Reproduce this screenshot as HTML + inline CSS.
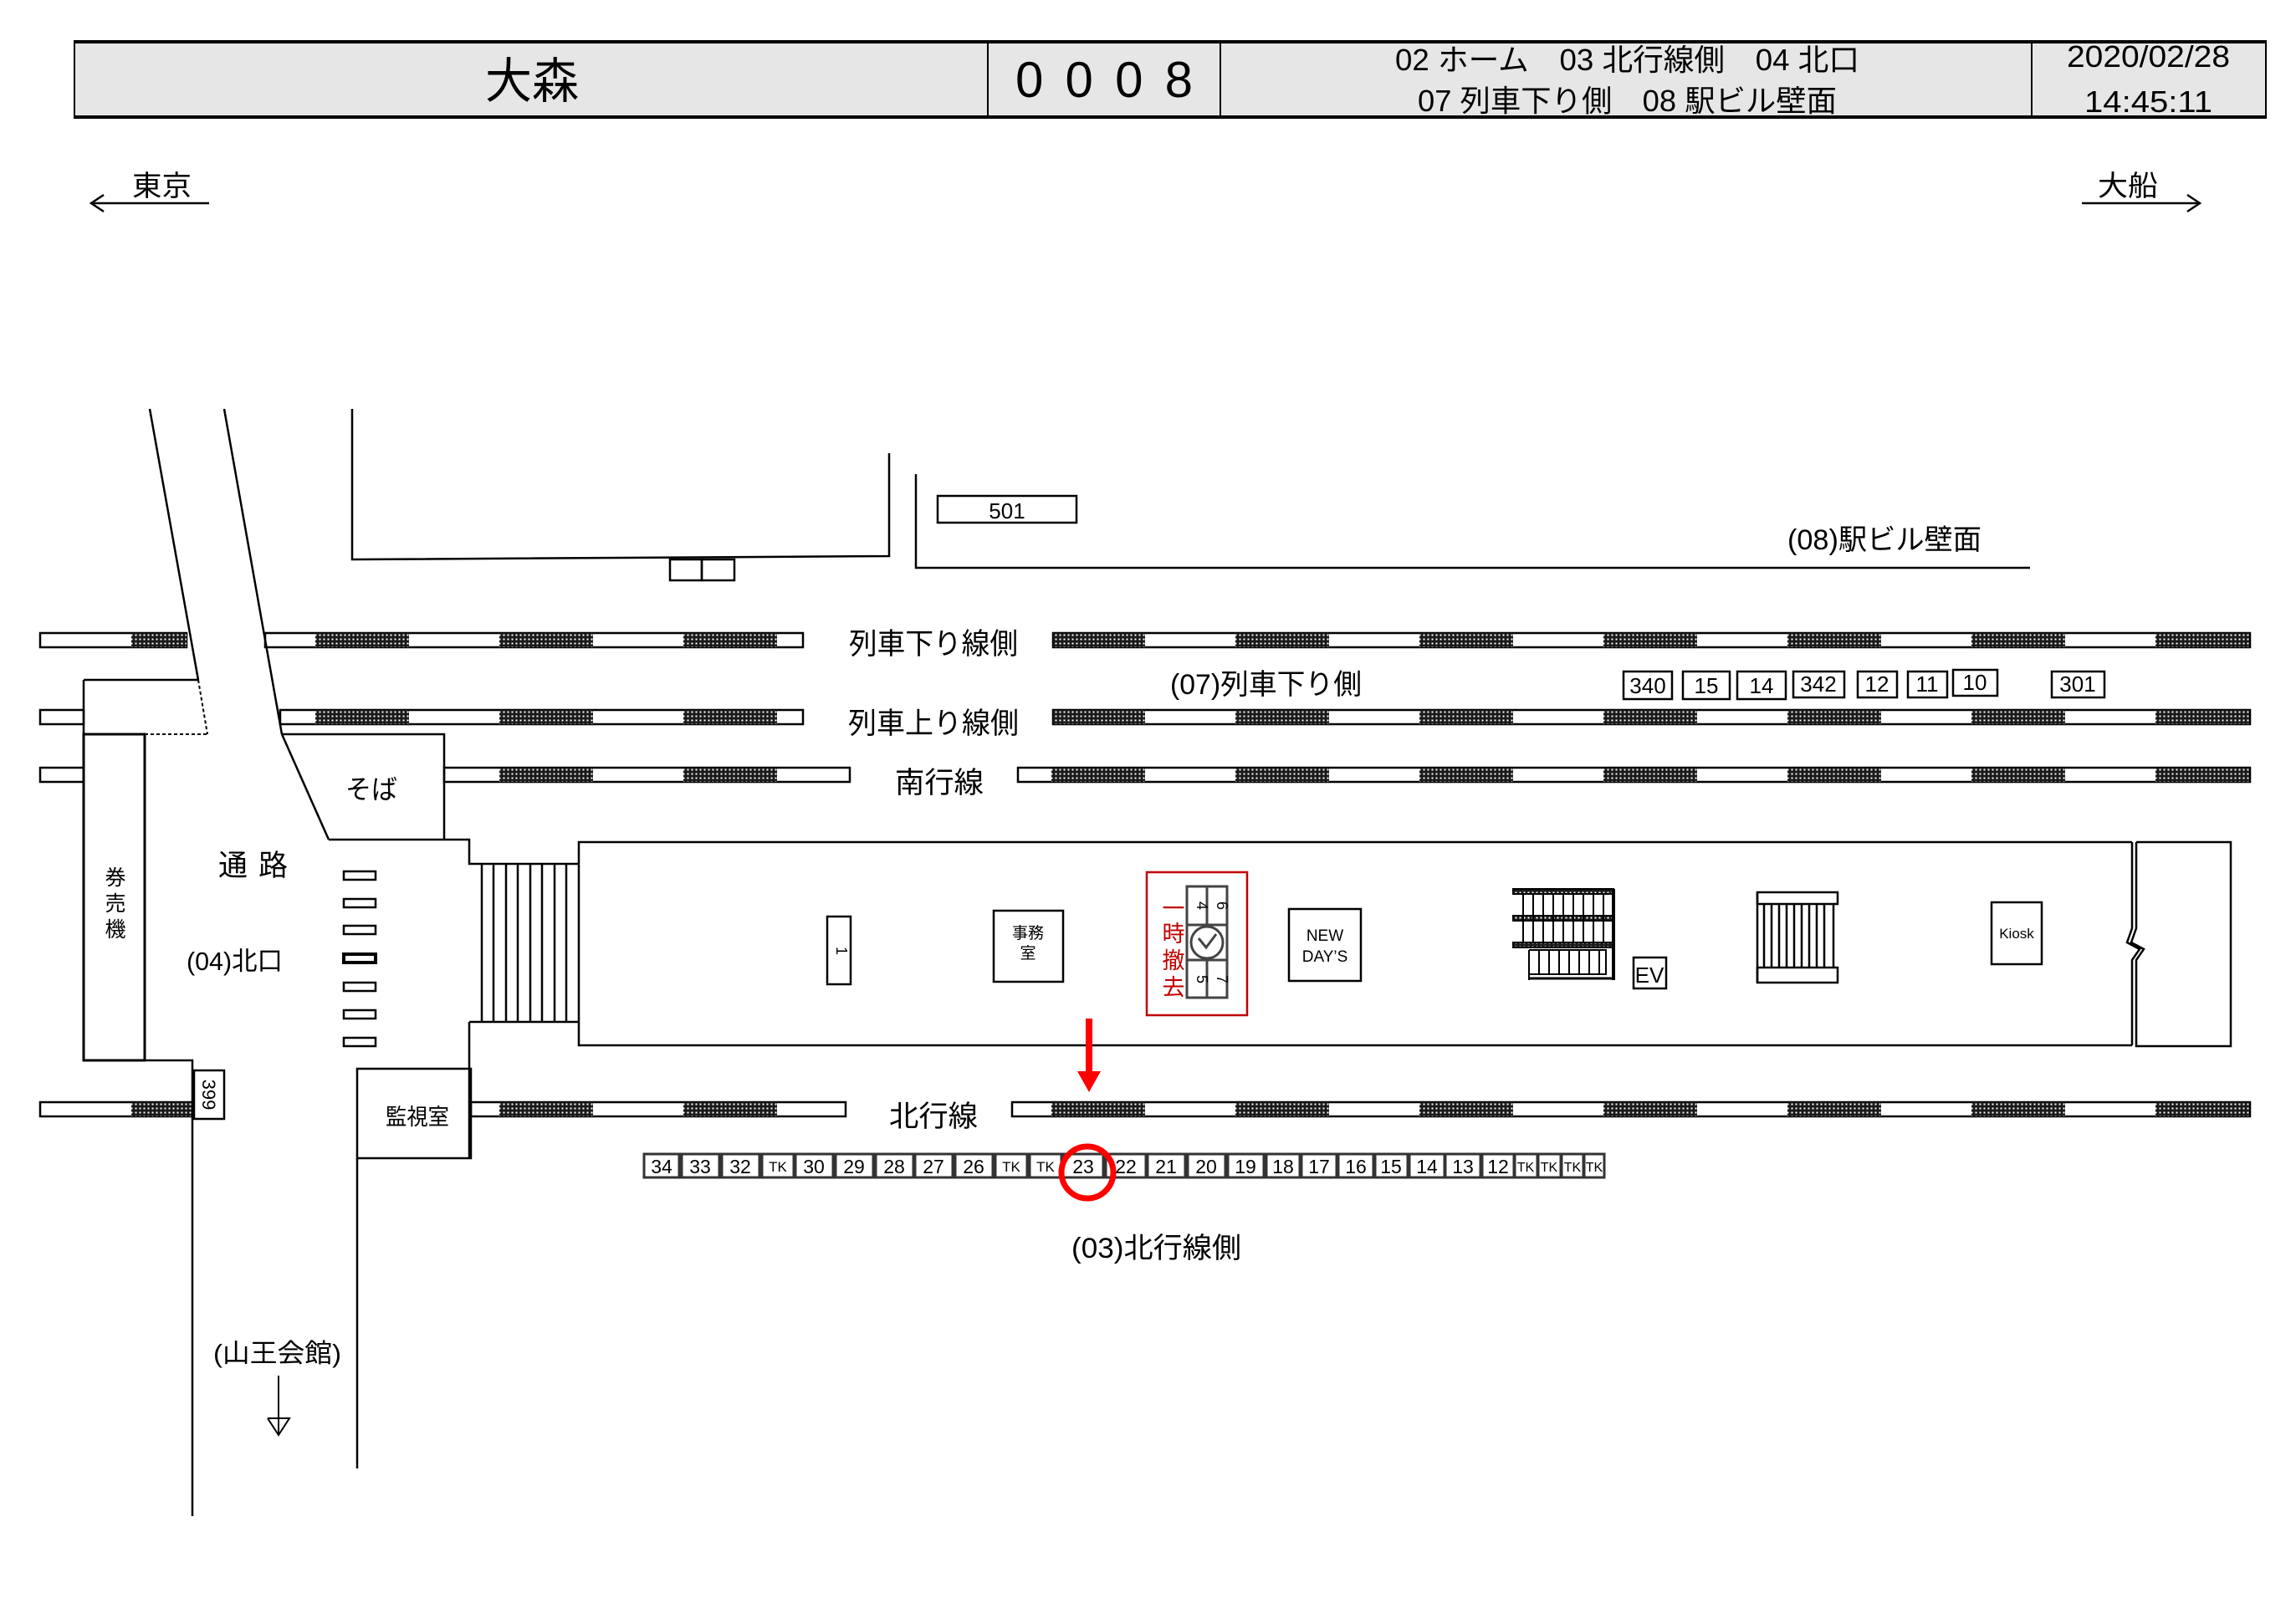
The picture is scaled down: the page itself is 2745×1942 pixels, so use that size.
<!DOCTYPE html>
<html><head><meta charset="utf-8"><style>
html,body{margin:0;padding:0;background:#fff;}
svg{display:block;}
text{font-family:"Liberation Sans","Noto Sans CJK JP",sans-serif;fill:#000;}
text.red{fill:#c00000;}
</style></head><body>
<svg width="2745" height="1942" viewBox="0 0 2745 1942" xmlns="http://www.w3.org/2000/svg">
<defs>
<pattern id="dots" width="5" height="5" patternUnits="userSpaceOnUse">
<rect width="5" height="5" fill="#1a1a1a"/><rect x="1.5" y="1.5" width="2" height="2" fill="#fff"/>
</pattern>
<g id="h">
<rect x="157" y="0" width="112" height="17" fill="url(#dots)"/>
<rect x="377" y="0" width="112" height="17" fill="url(#dots)"/>
<rect x="597" y="0" width="112" height="17" fill="url(#dots)"/>
<rect x="817" y="0" width="112" height="17" fill="url(#dots)"/>
<rect x="1037" y="0" width="112" height="17" fill="url(#dots)"/>
<rect x="1257" y="0" width="112" height="17" fill="url(#dots)"/>
<rect x="1477" y="0" width="112" height="17" fill="url(#dots)"/>
<rect x="1697" y="0" width="112" height="17" fill="url(#dots)"/>
<rect x="1917" y="0" width="112" height="17" fill="url(#dots)"/>
<rect x="2137" y="0" width="112" height="17" fill="url(#dots)"/>
<rect x="2357" y="0" width="112" height="17" fill="url(#dots)"/>
<rect x="2577" y="0" width="112" height="17" fill="url(#dots)"/>
</g>
<clipPath id="cA"><rect x="48" y="757" width="175" height="17"/><rect x="317" y="757" width="643" height="17"/><rect x="1259" y="757" width="1431" height="17"/></clipPath>
<clipPath id="cB"><rect x="48" y="849" width="52" height="17"/><rect x="335" y="849" width="625" height="17"/><rect x="1259" y="849" width="1431" height="17"/></clipPath>
<clipPath id="cC"><rect x="48" y="918" width="52" height="17"/><rect x="531" y="918" width="485" height="17"/><rect x="1217" y="918" width="1473" height="17"/></clipPath>
<clipPath id="cD"><rect x="48" y="1318" width="182" height="17"/><rect x="563" y="1318" width="448" height="17"/><rect x="1210" y="1318" width="1480" height="17"/></clipPath>
</defs>

<!-- header -->
<rect x="88" y="49" width="2622" height="92" fill="#e6e6e6"/>
<line x1="88" y1="50" x2="2710" y2="50" stroke="#000" stroke-width="4"/>
<line x1="88" y1="140" x2="2710" y2="140" stroke="#000" stroke-width="4"/>
<line x1="89" y1="49" x2="89" y2="141" stroke="#000" stroke-width="2"/>
<line x1="2709" y1="49" x2="2709" y2="141" stroke="#000" stroke-width="2"/>
<line x1="1181" y1="49" x2="1181" y2="141" stroke="#000" stroke-width="2"/>
<line x1="1459" y1="49" x2="1459" y2="141" stroke="#000" stroke-width="2"/>
<line x1="2429" y1="49" x2="2429" y2="141" stroke="#000" stroke-width="2"/>
<text x="580" y="117" font-size="58" textLength="112" lengthAdjust="spacingAndGlyphs">大森</text>
<text x="1214" y="116" font-size="60" textLength="212" lengthAdjust="spacing">0008</text>
<text x="1668" y="84" font-size="36" textLength="555" lengthAdjust="spacingAndGlyphs">02 ホーム　03 北行線側　04 北口</text>
<text x="1695" y="133" font-size="36" textLength="501" lengthAdjust="spacingAndGlyphs">07 列車下り側　08 駅ビル壁面</text>
<text x="2471" y="80" font-size="36" textLength="195" lengthAdjust="spacingAndGlyphs">2020/02/28</text>
<text x="2492" y="134" font-size="36" textLength="153" lengthAdjust="spacingAndGlyphs">14:45:11</text>

<!-- direction arrows -->
<text x="158" y="234" font-size="34" textLength="71" lengthAdjust="spacingAndGlyphs">東京</text>
<g stroke="#000" stroke-width="2.5" fill="none">
<line x1="109" y1="243" x2="250" y2="243"/><polyline points="124,233 109,243 124,253"/>
<line x1="2489" y1="243" x2="2630" y2="243"/><polyline points="2615,233 2630,243 2615,253"/>
</g>
<text x="2508" y="234" font-size="34" textLength="72" lengthAdjust="spacingAndGlyphs">大船</text>

<!-- buildings top -->
<g stroke="#000" stroke-width="2.5" fill="none">
<polyline points="421,489 421,669 1063,665 1063,542"/>
<rect x="801" y="669" width="38" height="25"/><rect x="839" y="669" width="39" height="25"/>
<polyline points="1095,567 1095,679 2427,679"/>
<rect x="1121" y="593" width="166" height="32"/>
</g>
<text x="1204" y="620" font-size="26" text-anchor="middle">501</text>
<text x="2137" y="657" font-size="34" textLength="232" lengthAdjust="spacingAndGlyphs">(08)駅ビル壁面</text>

<!-- rails -->
<g fill="#fff" stroke="#000" stroke-width="2.5">
<rect x="48" y="757" width="175" height="17"/><rect x="317" y="757" width="643" height="17"/><rect x="1259" y="757" width="1431" height="17"/>
<rect x="48" y="849" width="52" height="17"/><rect x="335" y="849" width="625" height="17"/><rect x="1259" y="849" width="1431" height="17"/>
<rect x="48" y="918" width="52" height="17"/><rect x="531" y="918" width="485" height="17"/><rect x="1217" y="918" width="1473" height="17"/>
<rect x="48" y="1318" width="182" height="17"/><rect x="563" y="1318" width="448" height="17"/><rect x="1210" y="1318" width="1480" height="17"/>
</g>
<g clip-path="url(#cA)"><use href="#h" y="757"/></g>
<g clip-path="url(#cB)"><use href="#h" y="849"/></g>
<g clip-path="url(#cC)"><use href="#h" y="918"/></g>
<g clip-path="url(#cD)"><use href="#h" y="1318"/></g>

<text x="1015" y="782" font-size="35" textLength="202" lengthAdjust="spacingAndGlyphs">列車下り線側</text>
<text x="1014" y="877" font-size="35" textLength="204" lengthAdjust="spacingAndGlyphs">列車上り線側</text>
<text x="1070" y="948" font-size="35" textLength="106" lengthAdjust="spacingAndGlyphs">南行線</text>
<text x="1063" y="1347" font-size="35" textLength="106" lengthAdjust="spacingAndGlyphs">北行線</text>
<text x="1399" y="830" font-size="34" textLength="229" lengthAdjust="spacingAndGlyphs">(07)列車下り側</text>

<!-- small boxes row 07 -->
<g fill="#fff" stroke="#000" stroke-width="2.5">
<rect x="1941" y="803" width="58" height="33"/><rect x="2012" y="803" width="56" height="33"/><rect x="2077" y="803" width="58" height="33"/>
<rect x="2144" y="803" width="61" height="31"/><rect x="2221" y="803" width="47" height="31"/><rect x="2281" y="803" width="47" height="31"/>
<rect x="2335" y="801" width="53" height="31"/><rect x="2453" y="803" width="63" height="31"/>
</g>
<g font-size="26" text-anchor="middle">
<text x="1970" y="829">340</text><text x="2040" y="829">15</text><text x="2106" y="829">14</text><text x="2174" y="827">342</text>
<text x="2244" y="827">12</text><text x="2304" y="827">11</text><text x="2361" y="825">10</text><text x="2484" y="827">301</text>
</g>

<!-- passage / left structures -->
<g stroke="#000" stroke-width="2.5" fill="none">
<line x1="179" y1="489" x2="237" y2="813"/>
<line x1="268" y1="489" x2="337" y2="878"/>
<line x1="337" y1="878" x2="393" y2="1004"/>
<polyline points="100,813 237,813"/>
<line x1="100" y1="813" x2="100" y2="1268"/>
<rect x="100" y="878" width="73" height="390" stroke-width="3"/>
<polyline points="100,1268 230,1268 230,1813"/>
<polyline points="337,878 531,878 531,1004"/>
<polyline points="393,1004 561,1004 561,1033 692,1033"/>
<line x1="561" y1="1222" x2="692" y2="1222"/>
<line x1="561" y1="1222" x2="561" y2="1385"/>
<rect x="427" y="1278" width="136" height="107"/>
<line x1="427" y1="1385" x2="427" y2="1756"/>
<line x1="576" y1="1033" x2="576" y2="1222"/><line x1="590" y1="1033" x2="590" y2="1222"/><line x1="605" y1="1033" x2="605" y2="1222"/>
<line x1="619" y1="1033" x2="619" y2="1222"/><line x1="634" y1="1033" x2="634" y2="1222"/><line x1="648" y1="1033" x2="648" y2="1222"/>
<line x1="663" y1="1033" x2="663" y2="1222"/><line x1="677" y1="1033" x2="677" y2="1222"/>
<rect x="232" y="1280" width="36" height="58" fill="#fff"/>
</g>
<g stroke="#000" stroke-width="2" fill="none" stroke-dasharray="4,3">
<line x1="237" y1="813" x2="248" y2="878"/><line x1="173" y1="878" x2="248" y2="878"/>
</g>
<g fill="#fff" stroke="#000" stroke-width="2.5">
<rect x="411" y="1042" width="38" height="10"/><rect x="411" y="1075" width="38" height="10"/><rect x="411" y="1107" width="38" height="10"/>
<rect x="411" y="1141" width="38" height="10" stroke-width="4"/><rect x="411" y="1175" width="38" height="10"/><rect x="411" y="1208" width="38" height="10"/>
<rect x="411" y="1241" width="38" height="10"/>
</g>
<text x="261" y="1047" font-size="35" textLength="83" lengthAdjust="spacing">通 路</text>
<text x="223" y="1160" font-size="31" textLength="115" lengthAdjust="spacingAndGlyphs">(04)北口</text>
<text x="413" y="955" font-size="32" textLength="62" lengthAdjust="spacingAndGlyphs">そば</text>
<text x="461" y="1345" font-size="27" textLength="76" lengthAdjust="spacingAndGlyphs">監視室</text>
<g font-size="25" text-anchor="middle"><text x="138" y="1058">券</text><text x="138" y="1089">売</text><text x="138" y="1120">機</text></g>
<text transform="translate(242,1309) rotate(90)" font-size="22" text-anchor="middle">399</text>
<text x="255" y="1629" font-size="31" textLength="153" lengthAdjust="spacingAndGlyphs">(山王会館)</text>
<g stroke="#000" stroke-width="2" fill="none"><line x1="333" y1="1645" x2="333" y2="1716"/><polyline points="320,1696 346,1696 333,1716 320,1696"/></g>

<!-- platform -->
<g stroke="#000" stroke-width="2.5" fill="none">
<polyline points="2549,1007 692,1007 692,1250 2549,1250"/>
<polyline points="2549,1007 2549,1110 2543,1127 2558,1135 2549,1148 2549,1250"/>
<polyline points="2554,1007 2667,1007 2667,1251 2554,1251 2554,1148 2563,1135 2548,1127 2554,1110 2554,1007"/>
<rect x="989" y="1096" width="28" height="81"/>
<rect x="1188" y="1089" width="83" height="85"/>
<rect x="1541" y="1087" width="86" height="86"/>
<rect x="1953" y="1145" width="39" height="37"/>
<rect x="2381" y="1079" width="60" height="74"/>
</g>
<text transform="translate(1000,1137) rotate(90)" font-size="18" text-anchor="middle">1</text>
<text x="1229" y="1122" font-size="19" text-anchor="middle">事務</text>
<text x="1229" y="1146" font-size="19" text-anchor="middle">室</text>
<text x="1584" y="1125" font-size="19" text-anchor="middle">NEW</text>
<text x="1584" y="1150" font-size="19" text-anchor="middle">DAY’S</text>
<text x="1972" y="1175" font-size="26" text-anchor="middle">EV</text>
<text x="2411" y="1122" font-size="17" text-anchor="middle">Kiosk</text>

<!-- red box / clock -->
<rect x="1371" y="1043" width="120" height="171" fill="none" stroke="#c00000" stroke-width="2.5"/>
<g font-size="27" text-anchor="middle">
<text class="red" x="1403" y="1096">一</text><text class="red" x="1403" y="1126">時</text>
<text class="red" x="1403" y="1158">撤</text><text class="red" x="1403" y="1190">去</text>
</g>
<g stroke="#444" stroke-width="3" fill="#fff">
<rect x="1419" y="1060" width="48" height="133"/>
<line x1="1443" y1="1060" x2="1443" y2="1106"/><line x1="1443" y1="1148" x2="1443" y2="1193"/>
<line x1="1419" y1="1106" x2="1467" y2="1106"/><line x1="1419" y1="1148" x2="1467" y2="1148"/>
<circle cx="1443" cy="1127" r="19"/>
<polyline points="1433,1122 1442,1133 1454,1117" fill="none"/>
</g>
<g font-size="18" text-anchor="middle">
<text transform="translate(1431,1083) rotate(90)">4</text><text transform="translate(1455,1083) rotate(90)">6</text>
<text transform="translate(1431,1171) rotate(90)">5</text><text transform="translate(1455,1171) rotate(90)">7</text>
</g>

<!-- escalator -->
<g stroke="#000" stroke-width="2" fill="none">
<rect x="1809" y="1063" width="120" height="6" fill="url(#dots)"/>
<rect x="1809" y="1095" width="120" height="6" fill="url(#dots)"/>
<rect x="1809" y="1127" width="120" height="6" fill="url(#dots)"/>
<line x1="1929" y1="1063" x2="1929" y2="1172" stroke-width="4"/>
<polyline points="1828,1136 1920,1136 1920,1165 1828,1165"/>
<line x1="1828" y1="1170" x2="1929" y2="1170" stroke-width="3"/>
<line x1="1828" y1="1136" x2="1828" y2="1172"/>
<path d="M1821 1069V1127M1833 1069V1127M1845 1069V1127M1857 1069V1127M1869 1069V1127M1881 1069V1127M1893 1069V1127M1905 1069V1127M1917 1069V1127"/>
<path d="M1840 1136V1165M1852 1136V1165M1864 1136V1165M1876 1136V1165M1888 1136V1165M1900 1136V1165M1912 1136V1165"/>
</g>
<!-- stairs -->
<g stroke="#000" stroke-width="2.5" fill="none">
<rect x="2101" y="1067" width="96" height="14"/>
<rect x="2101" y="1157" width="96" height="18"/>
<line x1="2101" y1="1067" x2="2101" y2="1175"/>
<path d="M2109 1081V1157M2118 1081V1157M2127 1081V1157M2136 1081V1157M2145 1081V1157M2154 1081V1157M2163 1081V1157M2172 1081V1157M2181 1081V1157M2192 1081V1157"/>
</g>

<!-- red arrow -->
<rect x="1298" y="1218" width="8" height="65" fill="#f00"/>
<polygon points="1288,1281 1316,1281 1302,1306" fill="#f00"/>

<!-- bottom number boxes -->
<g fill="#fff" stroke="#333" stroke-width="3">
<rect x="770" y="1380" width="42" height="28"/><rect x="815" y="1380" width="45" height="28"/><rect x="863" y="1380" width="45" height="28"/>
<rect x="911" y="1380" width="38" height="28"/><rect x="951" y="1380" width="45" height="28"/><rect x="999" y="1380" width="45" height="28"/>
<rect x="1047" y="1380" width="45" height="28"/><rect x="1094" y="1380" width="45" height="28"/><rect x="1142" y="1380" width="45" height="28"/>
<rect x="1190" y="1380" width="38" height="28"/><rect x="1231" y="1380" width="38" height="28"/><rect x="1271" y="1380" width="48" height="28"/>
<rect x="1322" y="1380" width="48" height="28"/><rect x="1372" y="1380" width="45" height="28"/><rect x="1420" y="1380" width="45" height="28"/>
<rect x="1468" y="1380" width="43" height="28"/><rect x="1514" y="1380" width="40" height="28"/><rect x="1556" y="1380" width="42" height="28"/>
<rect x="1600" y="1380" width="42" height="28"/><rect x="1644" y="1380" width="39" height="28"/><rect x="1685" y="1380" width="42" height="28"/>
<rect x="1728" y="1380" width="42" height="28"/><rect x="1772" y="1380" width="38" height="28"/><rect x="1811" y="1380" width="27" height="28"/>
<rect x="1839" y="1380" width="27" height="28"/><rect x="1867" y="1380" width="26" height="28"/><rect x="1894" y="1380" width="24" height="28"/>
</g>
<g font-size="23" text-anchor="middle">
<text x="791" y="1403">34</text><text x="837" y="1403">33</text><text x="885" y="1403">32</text><text x="930" y="1401" font-size="17">TK</text>
<text x="973" y="1403">30</text><text x="1021" y="1403">29</text><text x="1069" y="1403">28</text><text x="1116" y="1403">27</text>
<text x="1164" y="1403">26</text><text x="1209" y="1401" font-size="17">TK</text><text x="1250" y="1401" font-size="17">TK</text>
<text x="1295" y="1403">23</text><text x="1346" y="1403">22</text><text x="1394" y="1403">21</text><text x="1442" y="1403">20</text>
<text x="1489" y="1403">19</text><text x="1534" y="1403">18</text><text x="1577" y="1403">17</text><text x="1621" y="1403">16</text>
<text x="1663" y="1403">15</text><text x="1706" y="1403">14</text><text x="1749" y="1403">13</text><text x="1791" y="1403">12</text>
<text x="1824" y="1401" font-size="16">TK</text><text x="1852" y="1401" font-size="16">TK</text><text x="1880" y="1401" font-size="16">TK</text><text x="1906" y="1401" font-size="16">TK</text>
</g>
<ellipse cx="1300" cy="1402" rx="31" ry="31" fill="none" stroke="#f00" stroke-width="7"/>
<text x="1281" y="1504" font-size="34" textLength="203" lengthAdjust="spacingAndGlyphs">(03)北行線側</text>
</svg>
</body></html>
